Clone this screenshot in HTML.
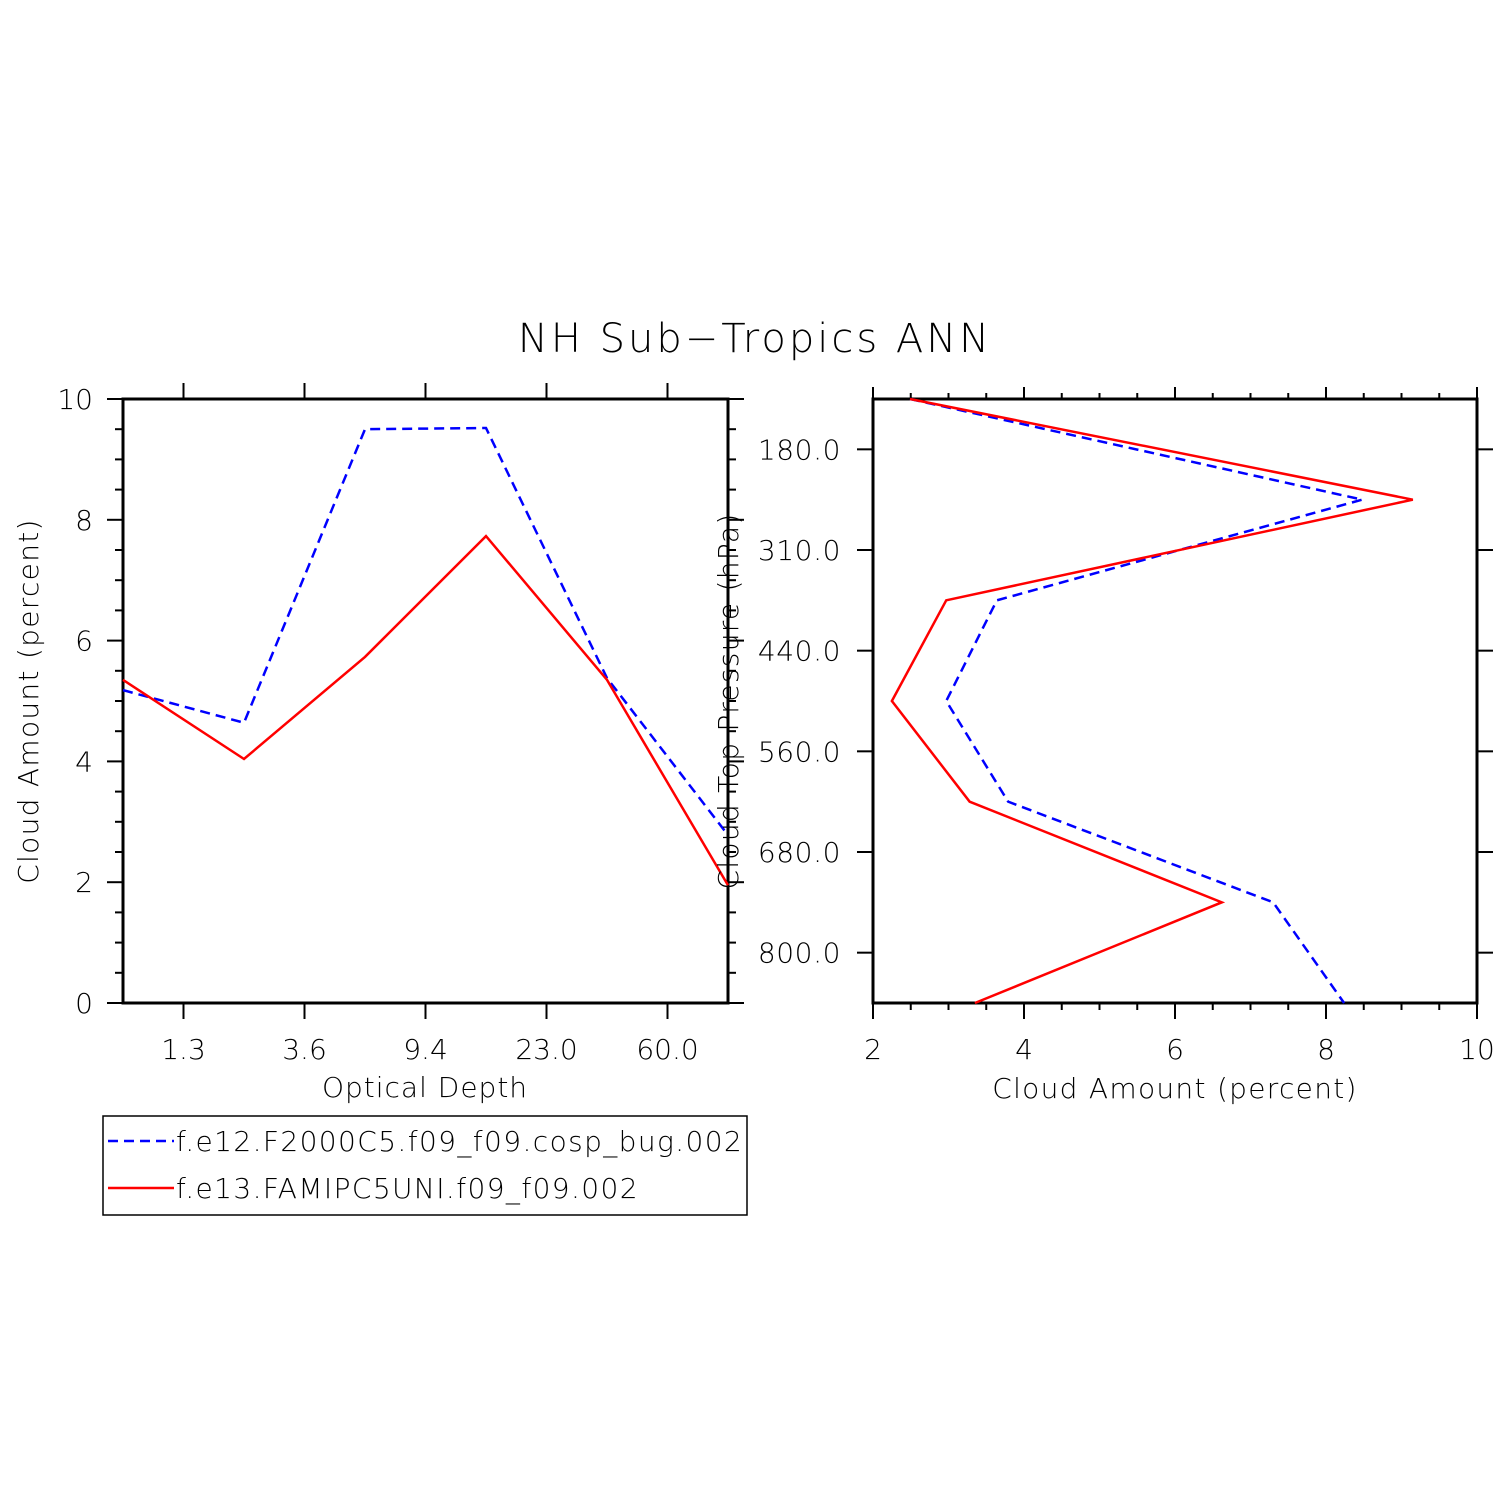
<!DOCTYPE html>
<html><head><meta charset="utf-8"><style>
body{margin:0;background:#fff;}
svg{display:block;font-family:"DejaVu Sans","Liberation Sans",sans-serif;}
text{font-weight:200;}
</style></head><body>
<svg id="chart" width="1510" height="1510" viewBox="0 0 1510 1510">
<rect width="1510" height="1510" fill="#fff"/>
<text x="755" y="352" text-anchor="middle" font-size="40" letter-spacing="3">NH Sub−Tropics ANN</text>
<g id="left"></g>
<g id="right"></g>
<g>
<rect x="103" y="1116" width="644" height="99" fill="none" stroke="#000" stroke-width="1.5"/>
<g>
<line x1="108" y1="1141" x2="174" y2="1141" stroke="#0000ff" stroke-width="2.5" stroke-dasharray="10,6"/>
<text x="176" y="1151" font-size="28" letter-spacing="1.4">f.e12.F2000C5.f09_f09.cosp_bug.002</text></g>
<g>
<line x1="108" y1="1188" x2="174" y2="1188" stroke="#ff0000" stroke-width="2.5"/>
<text x="176" y="1198" font-size="28" letter-spacing="1.4">f.e13.FAMIPC5UNI.f09_f09.002</text></g>
</g>
</svg>
<script>
const odLabels=["1.3","3.6","9.4","23.0","60.0"];
const odBlue=[5.18,4.64,9.5,9.52,5.38,2.78];
const odRed=[5.35,4.04,5.73,7.73,5.35,1.95];
const presLabels=["180.0","310.0","440.0","560.0","680.0","800.0"];
const presBlue=[2.49,8.48,3.64,2.97,3.79,7.3,8.24];
const presRed=[2.49,9.15,2.97,2.25,3.28,6.62,3.35];
const ns="http://www.w3.org/2000/svg";
function mk(p,t,a){const e=document.createElementNS(ns,t);for(const k in a)e.setAttribute(k,a[k]);p.appendChild(e);return e;}
const L=document.getElementById('left'),R=document.getElementById('right');
// left panel
const lx0=123,lx1=728,ly0=399,ly1=1003;
const lxs=i=>lx0+i*(lx1-lx0)/(odBlue.length-1);
const lys=v=>ly1-v*(ly1-ly0)/10;
for(let v=0;v<=10;v+=0.5){const maj=v%2===0;const y=lys(v);
 mk(L,'line',{x1:lx0,x2:lx0-(maj?16:8),y1:y,y2:y,stroke:'#000','stroke-width':2});
 mk(L,'line',{x1:lx1,x2:lx1+(maj?16:8),y1:y,y2:y,stroke:'#000','stroke-width':2});
 if(maj){const t=mk(L,'text',{x:lx0-30,y:y+10,'text-anchor':'end','font-size':28});t.textContent=v;
 
 }}
odLabels.forEach((s,i)=>{const x=lxs(i+0.5);
 mk(L,'line',{x1:x,x2:x,y1:ly1,y2:ly1+16,stroke:'#000','stroke-width':2});
 mk(L,'line',{x1:x,x2:x,y1:ly0,y2:ly0-16,stroke:'#000','stroke-width':2});
 const t=mk(L,'text',{x:x,y:1059,'text-anchor':'middle','font-size':28});t.textContent=s;
 
 });
mk(L,'rect',{x:lx0,y:ly0,width:lx1-lx0,height:ly1-ly0,fill:'none',stroke:'#000','stroke-width':3});
function poly(p,pts,col,dash,name){const e=mk(p,'polyline',{points:pts.join(' '),fill:'none',stroke:col,'stroke-width':2.5});if(dash)e.setAttribute('stroke-dasharray','10,6');
 
 }
poly(L,odBlue.map((v,i)=>lxs(i)+','+lys(v)),'#0000ff',true,'od-blue-line');
poly(L,odRed.map((v,i)=>lxs(i)+','+lys(v)),'#ff0000',false,'od-red-line');
let t=mk(L,'text',{x:425,y:1097,'text-anchor':'middle','font-size':28,'letter-spacing':1});t.textContent='Optical Depth';

t=mk(L,'text',{transform:'translate(38,701) rotate(-90)','text-anchor':'middle','font-size':28,'letter-spacing':1.3});t.textContent='Cloud Amount (percent)';

// right panel
const rx0=873,rx1=1477,ry0=399,ry1=1003;
const rxs=v=>rx0+(v-2)*(rx1-rx0)/8;
const rys=i=>ry0+i*(ry1-ry0)/(presBlue.length-1);
for(let v=2;v<=10;v+=0.5){const maj=v%2===0;const x=rxs(v);
 mk(R,'line',{x1:x,x2:x,y1:ry1,y2:ry1+(maj?16:7),stroke:'#000','stroke-width':2});
 mk(R,'line',{x1:x,x2:x,y1:ry0,y2:ry0-(maj?12:6),stroke:'#000','stroke-width':2});
 if(maj){const tt=mk(R,'text',{x:x,y:1059,'text-anchor':'middle','font-size':28});tt.textContent=v;
 
 }}
presLabels.forEach((s,i)=>{const y=rys(i+0.5);
 mk(R,'line',{x1:rx0,x2:rx0-16,y1:y,y2:y,stroke:'#000','stroke-width':2});
 mk(R,'line',{x1:rx1,x2:rx1+16,y1:y,y2:y,stroke:'#000','stroke-width':2});
 const tt=mk(R,'text',{x:841,y:y+10,'text-anchor':'end','font-size':28,'letter-spacing':0.6});tt.textContent=s;
 
 });
mk(R,'rect',{x:rx0,y:ry0,width:rx1-rx0,height:ry1-ry0,fill:'none',stroke:'#000','stroke-width':3});
poly(R,presBlue.map((v,i)=>rxs(v)+','+rys(i)),'#0000ff',true,'pres-blue-line');
poly(R,presRed.map((v,i)=>rxs(v)+','+rys(i)),'#ff0000',false,'pres-red-line');
t=mk(R,'text',{x:1175,y:1098,'text-anchor':'middle','font-size':28,'letter-spacing':1.3});t.textContent='Cloud Amount (percent)';

t=mk(R,'text',{transform:'translate(738,701) rotate(-90)','text-anchor':'middle','font-size':28,'letter-spacing':1.3});t.textContent='Cloud Top Pressure (hPa)';

</script>
</body></html>
